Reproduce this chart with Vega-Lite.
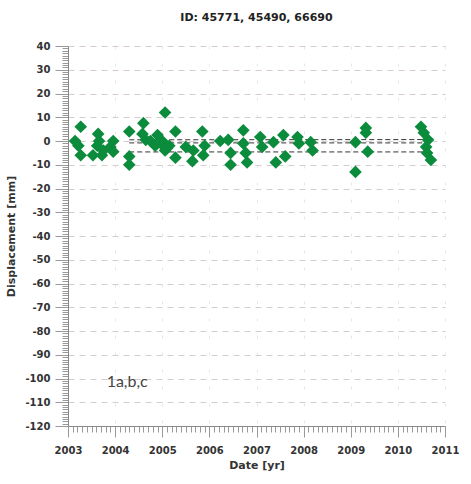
{
  "$schema": "https://vega.github.io/schema/vega-lite/v6.json",
  "width": 377,
  "height": 380,
  "autosize": "none",
  "padding": {"left": 68, "top": 46, "right": 26, "bottom": 58},
  "background": "white",
  "config": {"view": {"stroke": null}, "font": "DejaVu Sans"},
  "title": {"text": "ID: 45771, 45490, 66690", "fontSize": 11, "fontWeight": "bold", "font": "DejaVu Sans", "color": "#222", "offset": 18, "anchor": "middle"},
  "datasets": {
    "pts": [
      {"year": 2003.15, "disp": 0}, {"year": 2003.27, "disp": 6}, {"year": 2003.22, "disp": -2}, {"year": 2003.27, "disp": -6},
      {"year": 2003.53, "disp": -6}, {"year": 2003.64, "disp": 3}, {"year": 2003.66, "disp": 0}, {"year": 2003.72, "disp": -6},
      {"year": 2003.75, "disp": -4}, {"year": 2003.96, "disp": 0}, {"year": 2003.96, "disp": -4.5}, {"year": 2003.9, "disp": -2.5},
      {"year": 2003.62, "disp": -2}, {"year": 2004.3, "disp": 4}, {"year": 2004.3, "disp": -6.5}, {"year": 2004.3, "disp": -10},
      {"year": 2004.6, "disp": 7.5}, {"year": 2004.58, "disp": 3}, {"year": 2004.65, "disp": 0.5}, {"year": 2004.75, "disp": 0},
      {"year": 2004.9, "disp": 2.5}, {"year": 2004.97, "disp": -1}, {"year": 2005.06, "disp": 12}, {"year": 2005.06, "disp": -4},
      {"year": 2005.0, "disp": 0}, {"year": 2005.1, "disp": -3}, {"year": 2004.85, "disp": -2},
      {"year": 2005.28, "disp": 4}, {"year": 2005.28, "disp": -7}, {"year": 2005.15, "disp": -2}, {"year": 2005.5, "disp": -2.5},
      {"year": 2005.64, "disp": -8.5}, {"year": 2005.66, "disp": -4}, {"year": 2005.85, "disp": 4}, {"year": 2005.9, "disp": -2},
      {"year": 2005.87, "disp": -6}, {"year": 2006.23, "disp": 0}, {"year": 2006.4, "disp": 0.5}, {"year": 2006.45, "disp": -5},
      {"year": 2006.45, "disp": -10}, {"year": 2006.72, "disp": 4.5}, {"year": 2006.72, "disp": -1}, {"year": 2006.77, "disp": -5},
      {"year": 2006.8, "disp": -9}, {"year": 2007.08, "disp": 1.7}, {"year": 2007.12, "disp": -2.5}, {"year": 2007.36, "disp": -0.5},
      {"year": 2007.41, "disp": -9}, {"year": 2007.57, "disp": 2.5}, {"year": 2007.61, "disp": -6.5}, {"year": 2007.87, "disp": 1.7},
      {"year": 2007.9, "disp": -1}, {"year": 2008.15, "disp": -0.5}, {"year": 2008.19, "disp": -4}, {"year": 2009.1, "disp": -0.5},
      {"year": 2009.1, "disp": -13}, {"year": 2009.32, "disp": 5.5}, {"year": 2009.32, "disp": 3.5}, {"year": 2009.36, "disp": -4.5},
      {"year": 2010.49, "disp": 6}, {"year": 2010.55, "disp": 3.5}, {"year": 2010.64, "disp": 0.5}, {"year": 2010.6, "disp": -2.5},
      {"year": 2010.62, "disp": -5}, {"year": 2010.7, "disp": -8}
    ],
    "trend": [
      {"id": "a", "year": 2004.3, "disp": -0.8}, {"id": "a", "year": 2010.6, "disp": -0.8},
      {"id": "b", "year": 2004.3, "disp": -4.6}, {"id": "b", "year": 2010.6, "disp": -4.6},
      {"id": "c", "year": 2004.3, "disp": 0.5}, {"id": "c", "year": 2010.6, "disp": 0.6}
    ],
    "note": [{"year": 2003.82, "disp": -101.5, "label": "1a,b,c"}]
  },
  "encoding": {
    "x": {"field": "year", "type": "quantitative", "scale": {"domain": [2003, 2011], "nice": false, "zero": false},
      "axis": {"orient": "bottom", "title": "Date [yr]",
        "values": [2003, 2003.1, 2003.2, 2003.3, 2003.4, 2003.5, 2003.6, 2003.7, 2003.8, 2003.9,
                   2004, 2004.1, 2004.2, 2004.3, 2004.4, 2004.5, 2004.6, 2004.7, 2004.8, 2004.9,
                   2005, 2005.1, 2005.2, 2005.3, 2005.4, 2005.5, 2005.6, 2005.7, 2005.8, 2005.9,
                   2006, 2006.1, 2006.2, 2006.3, 2006.4, 2006.5, 2006.6, 2006.7, 2006.8, 2006.9,
                   2007, 2007.1, 2007.2, 2007.3, 2007.4, 2007.5, 2007.6, 2007.7, 2007.8, 2007.9,
                   2008, 2008.1, 2008.2, 2008.3, 2008.4, 2008.5, 2008.6, 2008.7, 2008.8, 2008.9,
                   2009, 2009.1, 2009.2, 2009.3, 2009.4, 2009.5, 2009.6, 2009.7, 2009.8, 2009.9,
                   2010, 2010.1, 2010.2, 2010.3, 2010.4, 2010.5, 2010.6, 2010.7, 2010.8, 2010.9, 2011],
        "labelExpr": "abs(datum.value - round(datum.value)) < 0.001 ? '' + round(datum.value) : ''",
        "labelOverlap": false, "labelFlush": false,
        "labelFontSize": 10, "labelFontWeight": "bold", "labelColor": "#333", "labelPadding": 8,
        "tickSize": 11,
        "tickDash": {"condition": {"test": "abs(datum.value - round(datum.value)) < 0.001", "value": [11, 0]}, "value": [6, 30]},
        "tickColor": "#999", "domainColor": "#888",
        "titleFontSize": 11, "titleFontWeight": "bold", "titleColor": "#333", "titlePadding": 4,
        "grid": true, "gridColor": "#e6e6e6", "gridDash": [3, 14],
        "gridOpacity": {"condition": {"test": "abs(datum.value - round(datum.value)) < 0.001", "value": 1}, "value": 0}}},
    "y": {"field": "disp", "type": "quantitative", "scale": {"domain": [-120, 40], "nice": false, "zero": false},
      "axis": {"orient": "left", "title": "Displacement [mm]",
        "values": [-120, -119, -118, -117, -116, -115, -114, -113, -112, -111, -110, -109, -108, -107, -106, -105, -104, -103, -102, -101,
                   -100, -99, -98, -97, -96, -95, -94, -93, -92, -91, -90, -89, -88, -87, -86, -85, -84, -83, -82, -81,
                   -80, -79, -78, -77, -76, -75, -74, -73, -72, -71, -70, -69, -68, -67, -66, -65, -64, -63, -62, -61,
                   -60, -59, -58, -57, -56, -55, -54, -53, -52, -51, -50, -49, -48, -47, -46, -45, -44, -43, -42, -41,
                   -40, -39, -38, -37, -36, -35, -34, -33, -32, -31, -30, -29, -28, -27, -26, -25, -24, -23, -22, -21,
                   -20, -19, -18, -17, -16, -15, -14, -13, -12, -11, -10, -9, -8, -7, -6, -5, -4, -3, -2, -1,
                   0, 1, 2, 3, 4, 5, 6, 7, 8, 9, 10, 11, 12, 13, 14, 15, 16, 17, 18, 19,
                   20, 21, 22, 23, 24, 25, 26, 27, 28, 29, 30, 31, 32, 33, 34, 35, 36, 37, 38, 39, 40],
        "labelExpr": "datum.value % 10 == 0 ? '' + datum.value : ''",
        "labelOverlap": false, "labelFlush": false,
        "labelFontSize": 10, "labelFontWeight": "bold", "labelColor": "#333", "labelPadding": 5,
        "tickSize": 13,
        "tickDash": {"condition": {"test": "datum.value % 10 == 0", "value": [13, 0]}, "value": [6, 30]},
        "tickColor": "#999", "domainColor": "#888",
        "titleFontSize": 11, "titleFontWeight": "bold", "titleColor": "#333", "titlePadding": 8,
        "grid": true, "gridColor": "#d6cccc", "gridDash": [6, 5],
        "gridOpacity": {"condition": {"test": "datum.value % 10 == 0", "value": 1}, "value": 0}}}
  },
  "layer": [
    {
      "data": {"name": "trend"},
      "mark": {"type": "line", "color": "#333", "strokeWidth": 1, "strokeDash": [5, 3]},
      "encoding": {"detail": {"field": "id"}}
    },
    {
      "data": {"name": "pts"},
      "mark": {"type": "point", "shape": "diamond", "filled": true, "color": "#0b8c3c", "opacity": 1, "size": 160}
    },
    {
      "data": {"name": "note"},
      "mark": {"type": "text", "align": "left", "baseline": "middle", "fontSize": 16, "font": "Lato", "color": "#444"},
      "encoding": {"text": {"field": "label"}}
    }
  ]
}
